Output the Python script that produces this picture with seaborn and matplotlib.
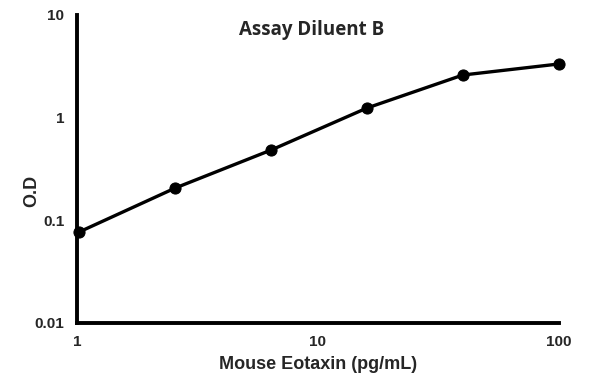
import pandas as pd
import seaborn as sns
import matplotlib.pyplot as plt
from matplotlib.ticker import FixedLocator, FixedFormatter, NullLocator

# data
conc = [1.024, 2.56, 6.4, 16, 40, 100]
od = [0.077, 0.206, 0.483, 1.24, 2.6, 3.33]
x_ticks = [1, 10, 100]
x_labels = ['1', '10', '100']
y_ticks = [0.01, 0.1, 1, 10]
y_labels = ['0.01', '0.1', '1', '10']

df = pd.DataFrame({'conc': conc, 'od': od})

sns.set_style('white')
plt.rcParams['font.family'] = ['Liberation Sans', 'DejaVu Sans']

fig = plt.figure(figsize=(5.95, 3.84), dpi=100)
ax = fig.add_axes([0.129, 0.159, 0.81, 0.802])

sns.lineplot(x='conc', y='od', data=df, ax=ax, color='black', linewidth=2.4,
             marker='o', markersize=8, markeredgecolor='black', clip_on=False)

ax.set_xscale('log')
ax.set_yscale('log')
ax.set_xlim(1, 100)
ax.set_ylim(0.01, 10)

ax.xaxis.set_major_locator(FixedLocator(x_ticks))
ax.xaxis.set_major_formatter(FixedFormatter(x_labels))
ax.xaxis.set_minor_locator(NullLocator())
ax.yaxis.set_major_locator(FixedLocator(y_ticks))
ax.yaxis.set_major_formatter(FixedFormatter(y_labels))
ax.yaxis.set_minor_locator(NullLocator())

for side in ['top', 'right']:
    ax.spines[side].set_visible(False)
for side in ['left', 'bottom']:
    ax.spines[side].set_linewidth(2.8)
    ax.spines[side].set_color('black')

ax.tick_params(axis='both', which='major', direction='out', length=4, width=2.8,
               color='black', labelsize=11, pad=5)
for lbl in ax.get_xticklabels() + ax.get_yticklabels():
    lbl.set_fontweight('bold')

ax.set_xlabel('Mouse Eotaxin (pg/mL)', fontsize=13, fontweight='bold', labelpad=5)
ax.set_ylabel('O.D', fontsize=13, fontweight='bold')
ax.yaxis.set_label_coords(-0.075, 0.43)
ax.text(0.488, 0.952, 'Assay Diluent B', transform=ax.transAxes, ha='center', va='center',
        fontsize=13.5, fontweight='bold', family=['Open Sans', 'DejaVu Sans'])

fig.savefig('out.png', dpi=100)
